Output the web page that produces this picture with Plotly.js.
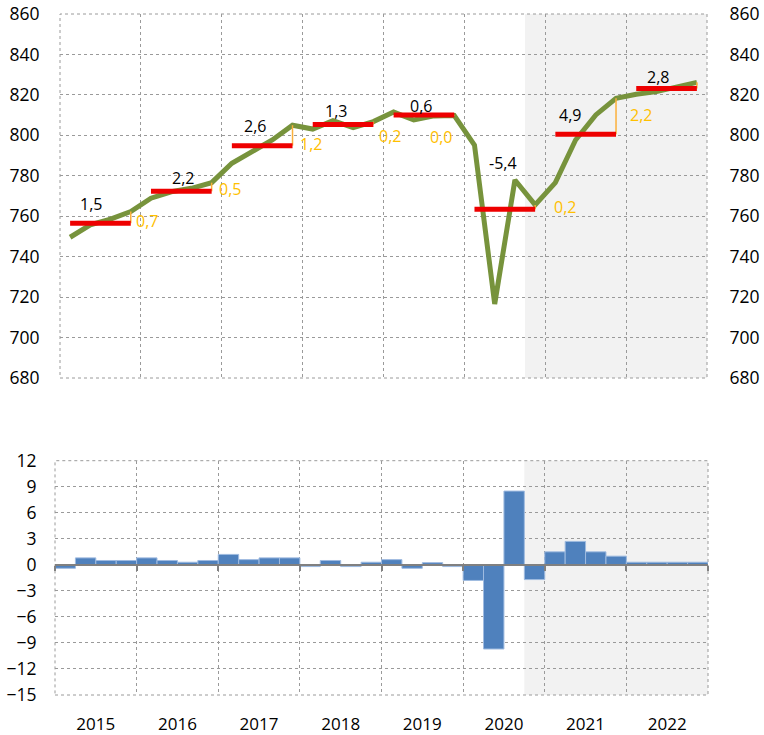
<!DOCTYPE html>
<html>
<head>
<meta charset="utf-8">
<script src="https://cdn.plot.ly/plotly-3.0.1.min.js"></script>
<style>html,body{margin:0;padding:0;background:#fff;}#chart{width:764px;height:735px;}</style>
</head>
<body>
<div id="chart"></div>
<script>
// ---- Data ----
const years = ['2015','2016','2017','2018','2019','2020','2021','2022'];
// Quarterly level (top chart, green line), 2015Q1 .. 2022Q4
const quarterLevel = [
  749.6, 755.7, 758.6, 762.3,
  768.9, 772.1, 773.8, 776.6,
  786.2, 792.0, 797.7, 805.0,
  803.1, 807.3, 803.8, 806.8,
  811.5, 807.6, 809.6, 809.8,
  795.2, 716.6, 777.9, 765.6,
  776.6, 797.7, 810.1, 818.3,
  820.3, 821.6, 823.6, 826.2
];
// Annual average level (red segments)
const annualAvg = [756.5, 772.3, 794.9, 805.4, 810.1, 763.4, 800.5, 823.2];
// Annual growth labels (black) and carry-over labels (orange)
const annualGrowth = ['1,5','2,2','2,6','1,3','0,6','-5,4','4,9','2,8'];
const carryOver = ['0,7','0,5','1,2','0,2','0,0','0,2','2,2',''];
// Quarter-on-quarter growth (bottom chart bars)
const qoqGrowth = [
  -0.4, 0.8, 0.5, 0.5,
   0.8, 0.5, 0.3, 0.5,
   1.2, 0.6, 0.8, 0.8,
  -0.2, 0.5,-0.2, 0.3,
   0.6,-0.4, 0.25,-0.2,
  -1.8,-9.7, 8.5,-1.7,
   1.5, 2.7, 1.5, 1.0,
   0.3, 0.3, 0.3, 0.3
];
const forecastStartQuarter = 23; // 2020Q4 onward shaded

// ---- Label positions (index units / value units) ----
const growthLabelPos = [[1.02,766],[5.57,778.7],[9.14,804.6],[13.15,812],[17.35,814.5],[21.4,786.3],[24.7,810],[29.06,829]];
const carryLabelPos = [[3.79,757.8],[7.91,773.5],[11.9,795.7],[15.82,799.8],[18.34,799.3],[24.48,764.7],[28.22,810],[0,0]];

const qIdx = quarterLevel.map((_, i) => i);
const FONT = 'Open Sans, Liberation Sans, sans-serif';
const GRID = '#9a9a9a';

const traces = [];
// green line
traces.push({x: qIdx, y: quarterLevel, xaxis:'x', yaxis:'y', type:'scatter', mode:'lines',
  line:{color:'#77933c', width:5}, hoverinfo:'skip', showlegend:false});
// red annual averages and orange carry-over lines
years.forEach((yr, i) => {
  const q1 = 4*i, q4 = 4*i+3;
  traces.push({x:[q4,q4], y:[annualAvg[i], quarterLevel[q4]], xaxis:'x', yaxis:'y', type:'scatter', mode:'lines',
    line:{color:'#fbb03b', width:1.5}, hoverinfo:'skip', showlegend:false});
  traces.push({x:[q1,q4], y:[annualAvg[i], annualAvg[i]], xaxis:'x', yaxis:'y', type:'scatter', mode:'lines',
    line:{color:'#ee0000', width:5}, hoverinfo:'skip', showlegend:false});
});
// right-side duplicate axis (invisible trace)
traces.push({x:[0], y:[annualAvg[0]], xaxis:'x', yaxis:'y3', type:'scatter', mode:'markers',
  marker:{opacity:0}, hoverinfo:'skip', showlegend:false});
// bars
traces.push({x: qIdx, y: qoqGrowth, xaxis:'x2', yaxis:'y2', type:'bar', width:1,
  marker:{color:'#4f81bd', line:{color:'#9fbbe0', width:1}}, hoverinfo:'skip', showlegend:false});
// axis line at zero for bottom (invisible trace)
traces.push({x:[0], y:[0], xaxis:'x3', yaxis:'y2', type:'scatter', mode:'markers',
  marker:{opacity:0}, hoverinfo:'skip', showlegend:false});

const annotations = [];
years.forEach((yr, i) => {
  annotations.push({xref:'x', yref:'y', x:growthLabelPos[i][0], y:growthLabelPos[i][1], text:annualGrowth[i],
    showarrow:false, font:{family:FONT, size:16, color:'#000'}});
  if (carryOver[i]) annotations.push({xref:'x', yref:'y', x:carryLabelPos[i][0], y:carryLabelPos[i][1], text:carryOver[i],
    showarrow:false, font:{family:FONT, size:16, color:'#ffc000'}});
});

const W = 764, H = 735;
const yearBounds = years.map((_, i) => 4*i - 0.5).concat([31.5]);
const yearCenters = years.map((_, i) => 4*i + 1.5);
const zeroPaper = 1 - 564.8/H;
const gridY = {showgrid:true, gridcolor:GRID, griddash:'dot', gridwidth:1};

const layout = {
  width: W, height: H,
  margin:{l:0, r:0, t:0, b:0},
  paper_bgcolor:'#fff', plot_bgcolor:'rgba(0,0,0,0)',
  font:{family:FONT, size:17, color:'#000'},
  showlegend:false,
  bargap:0,
  xaxis:Object.assign({domain:[60/W, 707/W], range:[-0.5, 31.5], anchor:'y',
    tickmode:'array', tickvals:yearBounds, showticklabels:false, ticks:'', zeroline:false, showline:false}, gridY),
  yaxis:Object.assign({domain:[1-378/H, 1-14/H], range:[680, 860], dtick:20, tick0:680, anchor:'x', zeroline:false,
    ticks:'outside', ticklen:16, tickcolor:'rgba(0,0,0,0)', tickfont:{family:FONT, size:17.5}}, gridY),
  yaxis3:Object.assign({overlaying:'y', side:'right', range:[680, 860], dtick:20, tick0:680, anchor:'x',
    zeroline:false, ticks:'outside', ticklen:18, tickcolor:'rgba(0,0,0,0)', tickfont:{family:FONT, size:17.5}}, gridY),
  xaxis2:{domain:[55/W, 708/W], range:[-0.5, 31.5], anchor:'y2',
    tickmode:'array', tickvals:yearCenters, ticktext:years, ticks:'outside', ticklen:14, tickcolor:'rgba(0,0,0,0)',
    tickfont:{family:FONT, size:17}, showgrid:false, zeroline:false, showline:false,
    minor:{tickmode:'array', tickvals:yearBounds, showgrid:true, gridcolor:GRID, griddash:'dot', gridwidth:1, ticks:''}},
  yaxis2:Object.assign({domain:[1-695/H, 1-460.7/H], range:[-15, 12], dtick:3, tick0:-15, anchor:'x2', zeroline:false,
    ticks:'outside', ticklen:14, tickcolor:'rgba(0,0,0,0)', tickfont:{family:FONT, size:17.5}}, gridY),
  xaxis3:{overlaying:'x2', anchor:'free', position:zeroPaper, side:'bottom', range:[-0.5, 31.5],
    tickmode:'array', tickvals:yearBounds, showticklabels:false, ticks:'outside', ticklen:5, tickwidth:2, tickcolor:'#808080',
    showline:true, linecolor:'#808080', linewidth:2.5, showgrid:false, zeroline:false},
  shapes:[
    {type:'rect', xref:'x', yref:'y domain', x0:forecastStartQuarter-0.5, x1:31.5, y0:0, y1:1,
      fillcolor:'#f2f2f2', line:{width:0}, layer:'below'},
    {type:'rect', xref:'x2', yref:'y2 domain', x0:forecastStartQuarter-0.5, x1:31.5, y0:0, y1:1,
      fillcolor:'#f2f2f2', line:{width:0}, layer:'below'},
    {type:'rect', xref:'x domain', yref:'y domain', x0:0, x1:1, y0:0, y1:1,
      fillcolor:'rgba(0,0,0,0)', line:{color:GRID, width:1, dash:'dot'}, layer:'below'},
    {type:'rect', xref:'x2 domain', yref:'y2 domain', x0:0, x1:1, y0:0, y1:1,
      fillcolor:'rgba(0,0,0,0)', line:{color:GRID, width:1, dash:'dot'}, layer:'below'}
  ],
  annotations: annotations
};

Plotly.newPlot('chart', traces, layout, {staticPlot:true, displayModeBar:false});
</script>
</body>
</html>
